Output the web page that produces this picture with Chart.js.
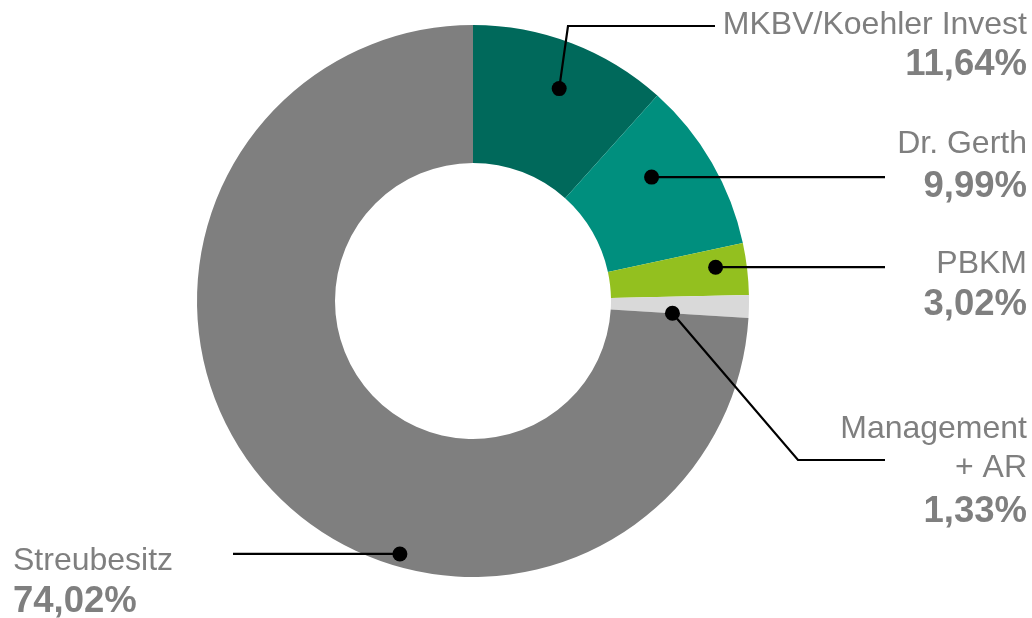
<!DOCTYPE html>
<html>
<head>
<meta charset="utf-8">
<script src="https://cdn.jsdelivr.net/npm/chart.js@4/dist/chart.umd.min.js"></script>
<style>
html,body{margin:0;padding:0;background:#fff;}
#wrap{width:1032px;height:618px;position:relative;}
</style>
</head>
<body>
<div id="wrap"><canvas id="c" width="1032" height="618"></canvas></div>
<script>
const categories = ['MKBV/Koehler Invest', 'Dr. Gerth', 'PBKM', 'Management + AR', 'Streubesitz'];
const labelLines = [['MKBV/Koehler Invest'], ['Dr. Gerth'], ['PBKM'], ['Management', '+ AR'], ['Streubesitz']];
const shares = [11.64, 9.99, 3.02, 1.33, 74.02];
const colors = ['#00695B', '#008F7E', '#93C01F', '#D9D9D9', '#7F7F7F'];

// label layout (positions only)
const labelLayout = [
  {x: 1027, align: 'right', base: [34, 75],        t: 0.527, f: 0.661, path: [[568, 26], [715, 26]]},
  {x: 1027, align: 'right', base: [153, 197],      t: 0.371, f: 0.575, path: [[885, null]]},
  {x: 1027, align: 'right', base: [273, 315],      t: 0.386, f: 0.775, path: [[885, null]]},
  {x: 1027, align: 'right', base: [438, 477, 522], t: 1.0,   f: 0.448, path: [[798, 460], [885, 460]]},
  {x: 13,   align: 'left',  base: [570, 612],      t: 0.385, f: 0.908, path: [[233, null]]}
];

const fmt = v => v.toFixed(2).replace('.', ',') + '%';

const leaderPlugin = {
  id: 'leaders',
  afterDraw(chart) {
    const ctx = chart.ctx;
    const meta = chart.getDatasetMeta(0);
    meta.data.forEach((arc, i) => {
      const p = arc.getProps(['x', 'y', 'startAngle', 'endAngle', 'innerRadius', 'outerRadius'], true);
      const L = labelLayout[i];
      const a = p.startAngle + L.t * (p.endAngle - p.startAngle);
      const r = p.innerRadius + L.f * (p.outerRadius - p.innerRadius);
      const dx = p.x + r * Math.cos(a);
      const dy = p.y + r * Math.sin(a);
      ctx.save();
      ctx.strokeStyle = '#000';
      ctx.lineWidth = 2.2;
      ctx.beginPath();
      ctx.moveTo(dx, dy);
      L.path.forEach(pt => ctx.lineTo(pt[0], pt[1] === null ? dy : pt[1]));
      ctx.stroke();
      ctx.fillStyle = '#000';
      ctx.beginPath();
      ctx.arc(dx, dy, 7.5, 0, Math.PI * 2);
      ctx.fill();
      // texts
      ctx.fillStyle = '#7F7F7F';
      ctx.textAlign = L.align;
      ctx.textBaseline = 'alphabetic';
      const lines = labelLines[i];
      ctx.font = '32px "Liberation Sans", Arial, sans-serif';
      lines.forEach((s, k) => ctx.fillText(s, L.x, L.base[k]));
      ctx.font = 'bold 36.5px "Liberation Sans", Arial, sans-serif';
      ctx.fillText(fmt(shares[i]), L.x, L.base[lines.length]);
      ctx.restore();
    });
  }
};

new Chart(document.getElementById('c'), {
  type: 'doughnut',
  data: {
    labels: categories,
    datasets: [{
      data: shares,
      backgroundColor: colors,
      borderWidth: 0,
      hoverOffset: 0
    }]
  },
  options: {
    responsive: false,
    animation: false,
    cutout: '50%',
    layout: {padding: {left: 197, right: 283, top: 25, bottom: 41}},
    plugins: {legend: {display: false}, tooltip: {enabled: false}}
  },
  plugins: [leaderPlugin]
});
</script>
</body>
</html>
